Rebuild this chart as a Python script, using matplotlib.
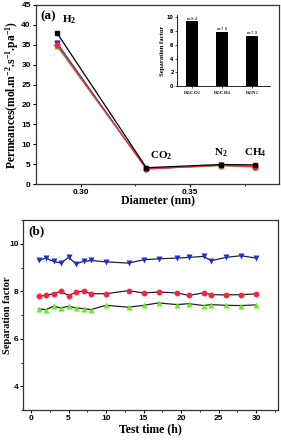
import matplotlib
matplotlib.use("Agg")
import matplotlib.pyplot as plt
from matplotlib.ticker import MultipleLocator

plt.rcParams["mathtext.default"] = "regular"

# ---- data panel (a)
diam = [0.289, 0.330, 0.364, 0.380]
gases = ["H$_2$", "CO$_2$", "N$_2$", "CH$_4$"]
perm_black = [38.0, 4.1, 4.9, 4.8]
perm_blue = [35.5, 3.8, 4.7, 4.4]
perm_red = [35.0, 3.8, 4.7, 4.3]
perm_green = [34.6, 3.9, 4.6, 4.4]

# inset
pairs = ["H$_2$/CO$_2$", "H$_2$/CH$_4$", "H$_2$/N$_2$"]
sep = [9.4, 7.9, 7.3]
sep_lbl = ["α=9.4", "α=7.9", "α=7.3"]

# ---- data panel (b)
t = [1, 2, 3, 4, 5, 6, 7, 8, 10, 13, 15, 17, 19.5, 21, 23, 24, 26, 28, 30]
sf_blue = [9.30, 9.40, 9.26, 9.19, 9.43, 9.16, 9.26, 9.30, 9.24, 9.19, 9.33, 9.37,
           9.40, 9.43, 9.47, 9.29, 9.43, 9.50, 9.40]
sf_red = [7.79, 7.83, 7.90, 8.00, 7.82, 7.96, 8.01, 7.90, 7.90, 8.03, 7.93, 7.97,
          7.93, 7.83, 7.93, 7.86, 7.85, 7.86, 7.89]
sf_green = [7.26, 7.23, 7.37, 7.30, 7.37, 7.30, 7.27, 7.23, 7.41, 7.33, 7.41, 7.51,
            7.44, 7.48, 7.40, 7.44, 7.41, 7.40, 7.43]

serif = "Liberation Serif"
sans = "Liberation Sans"

fig = plt.figure(figsize=(2.81, 4.42), dpi=100)

def style(ax, fs=6):
    for s in ax.spines.values():
        s.set_linewidth(0.9)
        s.set_color("#333333")
    ax.tick_params(direction="out", width=0.8, length=2.5, labelsize=fs, pad=1.2)
    ax.tick_params(which="minor", direction="out", width=0.6, length=1.5)
    for lab in ax.get_xticklabels() + ax.get_yticklabels():
        lab.set_fontfamily(sans)
        lab.set_fontweight("bold")

# ---------- panel (a)
ax1 = fig.add_axes([0.128, 0.5837, 0.865, 0.405])
ax1.plot(diam, perm_blue, color="#2030c0", lw=0.9, marker="v", ms=3.5, zorder=2)
ax1.plot(diam, perm_green, color="#60e020", lw=0.9, marker="^", ms=3.5, zorder=2)
ax1.plot(diam, perm_red, color="#ff2040", lw=0.9, marker="o", ms=3.5, zorder=3)
ax1.plot(diam, perm_black, color="black", lw=0.9, marker="s", ms=3, zorder=4)
ax1.set_xlim(0.2794, 0.3908)
ax1.set_ylim(0, 45)
ax1.xaxis.set_minor_locator(MultipleLocator(0.025))
ax1.yaxis.set_major_locator(MultipleLocator(5))
ax1.set_xticks([0.30, 0.35])
ax1.set_xticklabels(["0.30", "0.35"])
style(ax1)
ax1.set_xlabel("Diameter (nm)", fontfamily=serif, fontweight="bold", fontsize=8.5, labelpad=-1)
ax1.set_ylabel("Permeances(mol.m$^{-2}$.s$^{-1}$.pa$^{-1}$)", fontfamily=serif,
               fontweight="bold", fontsize=8.3, labelpad=0.5)
ax1.text(0.02, 0.97, "(a)", transform=ax1.transAxes, fontfamily=serif,
         fontweight="bold", fontsize=9.5, va="top", ha="left")
offs = [(0.0025, 1.6, "left"), (0.0015, 1.4, "left"), (0.0, 1.4, "center"), (0.0, 1.6, "center")]
for x, y, g, o in zip(diam, perm_black, gases, offs):
    ax1.text(x + o[0], y + o[1], g, fontfamily=serif, fontweight="bold", fontsize=8,
             ha=o[2], va="bottom")

# inset
axi = fig.add_axes([0.63, 0.805, 0.331, 0.161])
axi.bar(range(len(pairs)), sep, width=0.4, color="black")
axi.set_xlim(-0.5, 2.6)
axi.set_ylim(0, 10.3)
axi.set_xticks(range(len(pairs)))
axi.set_xticklabels(pairs, fontfamily=serif, fontweight="bold", fontsize=3.8)
axi.set_yticks([0, 2, 4, 6, 8, 10])
axi.spines["top"].set_visible(False)
axi.spines["right"].set_visible(False)
axi.tick_params(labelsize=3.5, length=1.5, width=0.5, pad=1)
for lab in axi.get_yticklabels():
    lab.set_fontweight("bold")
for s in axi.spines.values():
    s.set_linewidth(0.6)
axi.set_ylabel("Separation factor", fontfamily=serif, fontweight="bold", fontsize=4.8, labelpad=1)
for i, (v, l) in enumerate(zip(sep, sep_lbl)):
    axi.text(i, v + 0.1, l, fontsize=3.2, ha="center", va="bottom", fontfamily=sans)

# ---------- panel (b)
ax2 = fig.add_axes([0.082, 0.0724, 0.907, 0.4296])
kw = dict(color="#222233", lw=0.9, ms=4.2, mec="none")
ax2.plot(t, sf_blue, marker="v", mfc="#1a2ee0", **kw)
ax2.plot(t, sf_red, marker="o", mfc="#ff2040", **kw)
ax2.plot(t, sf_green, marker="^", mfc="#66ee22", **kw)
ax2.set_xlim(-1.06, 32.9)
ax2.set_ylim(3, 11)
ax2.xaxis.set_major_locator(MultipleLocator(5))
ax2.xaxis.set_minor_locator(MultipleLocator(2.5))
ax2.yaxis.set_major_locator(MultipleLocator(2))
ax2.yaxis.set_minor_locator(MultipleLocator(1))
style(ax2)
ax2.tick_params(axis="y", pad=0.8)
ax2.set_xlabel("Test time (h)", fontfamily=serif, fontweight="bold", fontsize=8.5, labelpad=1)
ax2.set_ylabel("Separation factor", fontfamily=serif, fontweight="bold", fontsize=7.5)
ax2.yaxis.set_label_coords(-0.042, 0.5)
ax2.text(0.02, 0.975, "(b)", transform=ax2.transAxes, fontfamily=serif,
         fontweight="bold", fontsize=9.5, va="top", ha="left")

fig.savefig("out.png", dpi=100)
